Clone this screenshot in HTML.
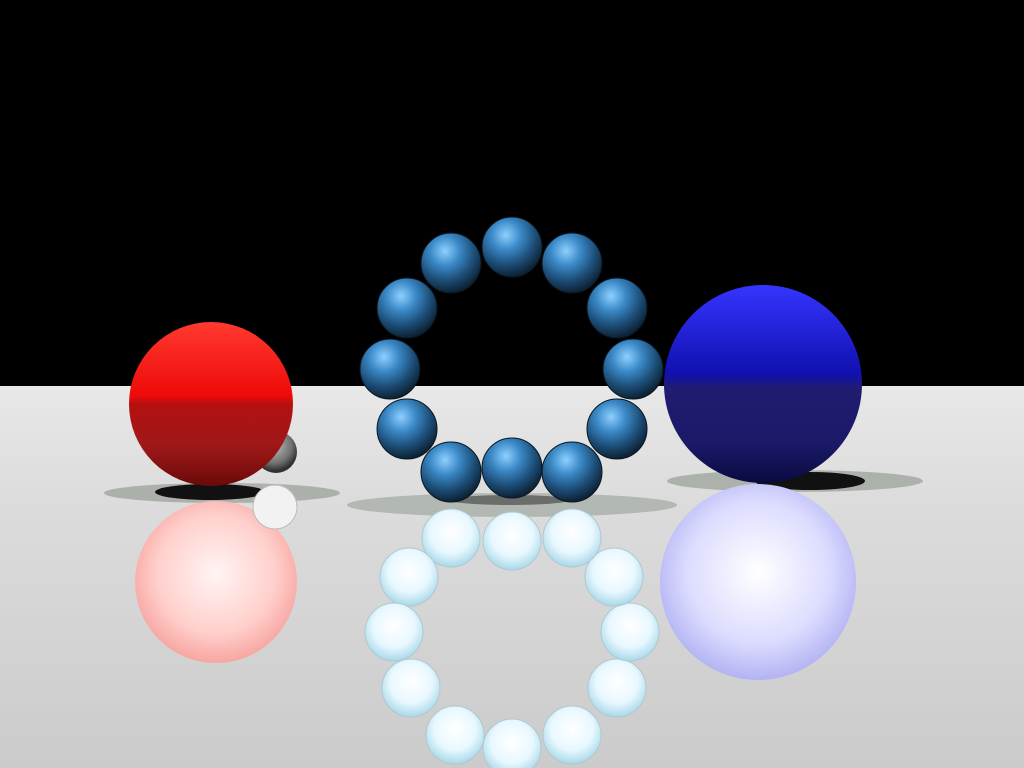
<!DOCTYPE html>
<html><head><meta charset="utf-8"><style>
html,body{margin:0;padding:0;background:#000;width:1024px;height:768px;overflow:hidden}
</style></head><body>
<svg width="1024" height="768" viewBox="0 0 1024 768" xmlns="http://www.w3.org/2000/svg">
<defs>
<linearGradient id="floor" x1="0" y1="0" x2="0" y2="1">
<stop offset="0" stop-color="#e8e8e8"/><stop offset="0.3" stop-color="#dcdcdc"/><stop offset="1" stop-color="#cbcbcb"/>
</linearGradient>
<linearGradient id="red" x1="0" y1="0" x2="0" y2="1">
<stop offset="0" stop-color="#ff3a30"/><stop offset="0.45" stop-color="#ee0a08"/><stop offset="0.5" stop-color="#b41010"/><stop offset="0.75" stop-color="#a01818"/><stop offset="1" stop-color="#6a0a0a"/>
</linearGradient>
<linearGradient id="blue" x1="0" y1="0" x2="0" y2="1">
<stop offset="0" stop-color="#3535ff"/><stop offset="0.45" stop-color="#1010b0"/><stop offset="0.52" stop-color="#201c70"/><stop offset="0.8" stop-color="#1a1a68"/><stop offset="1" stop-color="#0a0a40"/>
</linearGradient>
<radialGradient id="small" cx="0.4" cy="0.3" r="0.7">
<stop offset="0" stop-color="#8ed0ff"/><stop offset="0.35" stop-color="#3b8ac8"/><stop offset="0.7" stop-color="#1d4e78"/><stop offset="1" stop-color="#0d2234"/>
</radialGradient>
<radialGradient id="redRef" cx="0.5" cy="0.45" r="0.6">
<stop offset="0" stop-color="#fff4f4"/><stop offset="0.6" stop-color="#ffd0cc"/><stop offset="1" stop-color="#f59a96"/>
</radialGradient>
<radialGradient id="blueRef" cx="0.5" cy="0.45" r="0.6">
<stop offset="0" stop-color="#ffffff"/><stop offset="0.6" stop-color="#dcdcff"/><stop offset="1" stop-color="#a8a8f0"/>
</radialGradient>
<radialGradient id="smallRef" cx="0.5" cy="0.4" r="0.6">
<stop offset="0" stop-color="#ffffff"/><stop offset="0.6" stop-color="#e8f8ff"/><stop offset="1" stop-color="#a8d8e8"/>
</radialGradient>
<radialGradient id="glass" cx="0.45" cy="0.35" r="0.6">
<stop offset="0" stop-color="#c0c0c0"/><stop offset="0.7" stop-color="#707070"/><stop offset="1" stop-color="#303030"/>
</radialGradient>
</defs>
<rect x="0" y="0" width="1024" height="386" fill="#000"/>
<rect x="0" y="386" width="1024" height="382" fill="url(#floor)"/>
<g>
<ellipse cx="222" cy="493" rx="118" ry="10" fill="#8a9488" opacity="0.6"/>
<ellipse cx="210" cy="492" rx="55" ry="8" fill="#111"/>
<ellipse cx="512" cy="505" rx="165" ry="12" fill="#8a9488" opacity="0.5"/>
<ellipse cx="795" cy="481" rx="128" ry="11" fill="#8a9488" opacity="0.6"/>
<ellipse cx="810" cy="481" rx="55" ry="9" fill="#111"/>
<ellipse cx="510" cy="500" rx="60" ry="5" fill="#222" opacity="0.5"/>
</g>
<g>
<circle cx="216" cy="582" r="81" fill="url(#redRef)"/>
<circle cx="758" cy="582" r="98" fill="url(#blueRef)"/>
<circle cx="275" cy="507" r="22" fill="#f2f2f2" stroke="#bbb"/>
<g fill="url(#smallRef)" stroke="#b0c8d0">
<circle cx="512" cy="748" r="29"/><circle cx="572" cy="735" r="29"/><circle cx="617" cy="688" r="29"/>
<circle cx="630" cy="632" r="29"/><circle cx="614" cy="577" r="29"/><circle cx="572" cy="538" r="29"/>
<circle cx="512" cy="541" r="29"/><circle cx="451" cy="538" r="29"/><circle cx="409" cy="577" r="29"/>
<circle cx="394" cy="632" r="29"/><circle cx="411" cy="688" r="29"/><circle cx="455" cy="735" r="29"/>
</g>
</g>
<circle cx="276" cy="452" r="21" fill="url(#glass)"/>
<circle cx="211" cy="404" r="82" fill="url(#red)"/>
<circle cx="763" cy="384" r="99" fill="url(#blue)"/>
<g fill="url(#small)" stroke="#0a1620">
<circle cx="512" cy="247" r="30"/><circle cx="572" cy="263" r="30"/><circle cx="617" cy="308" r="30"/>
<circle cx="633" cy="369" r="30"/><circle cx="617" cy="429" r="30"/><circle cx="572" cy="472" r="30"/>
<circle cx="512" cy="468" r="30"/><circle cx="451" cy="472" r="30"/><circle cx="407" cy="429" r="30"/>
<circle cx="390" cy="369" r="30"/><circle cx="407" cy="308" r="30"/><circle cx="451" cy="263" r="30"/>
</g>
</svg>
</body></html>
